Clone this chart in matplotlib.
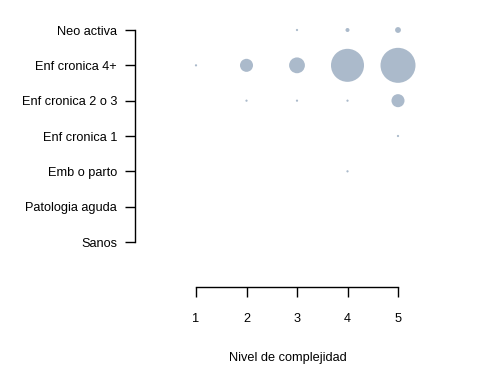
import matplotlib
matplotlib.use("Agg")
import matplotlib.pyplot as plt
import numpy as np

plt.rcParams['font.family'] = ['Liberation Sans', 'DejaVu Sans']

categories = ["Sanos", "Patologia aguda", "Emb o parto", "Enf cronica 1",
              "Enf cronica 2 o 3", "Enf cronica 4+", "Neo activa"]
levels = [1, 2, 3, 4, 5]

# counts (area-proportional) by category row, columns = complexity levels 1..5
counts = {
    "Sanos":             [0, 0, 0, 0, 0],
    "Patologia aguda":   [0, 0, 0, 0, 0],
    "Emb o parto":       [0, 0, 0, 5, 0],
    "Enf cronica 1":     [0, 0, 0, 0, 5],
    "Enf cronica 2 o 3": [0, 5, 5, 5, 170],
    "Enf cronica 4+":    [5, 170, 250, 1090, 1225],
    "Neo activa":        [0, 0, 5, 16, 34],
}

fig = plt.figure(figsize=(4.8, 3.83), dpi=100)
left, right = 135 / 480, 440 / 480
bottom, top = (383 - 287) / 383, (383 - 10) / 383
ax = fig.add_axes([left, bottom, right - left, top - bottom])

px_x = (398 - 196) / 4.0
px_y = (242 - 30) / 6.0
ax.set_xlim(1 - (196 - 135) / px_x, 5 + (440 - 398) / px_x)
ax.set_ylim(1 - (287 - 242) / px_y, 7 + (30 - 10) / px_y)

xs, ys, ss = [], [], []
for i, cat in enumerate(categories):
    for j, lv in enumerate(levels):
        c = counts[cat][j]
        if c > 0:
            xs.append(lv)
            ys.append(i + 1)
            ss.append((np.sqrt(c) * 0.72) ** 2)
ax.scatter(xs, ys, s=ss, color="#ABBACB", linewidths=0)

for s in ["top", "right"]:
    ax.spines[s].set_visible(False)
ax.spines["left"].set_bounds(1, 7)
ax.spines["bottom"].set_bounds(1, 5)
ax.spines["left"].set_linewidth(1.0)
ax.spines["bottom"].set_linewidth(1.0)

ax.set_xticks(levels)
ax.set_xticklabels([str(l) for l in levels], fontsize=9.2)
ax.set_yticks(range(1, len(categories) + 1))
ax.set_yticklabels(categories, fontsize=9.2)
ax.tick_params(axis="y", length=7, pad=6, width=1.0)
ax.tick_params(axis="x", length=7, pad=12, width=1.0)
ax.set_xlabel("Nivel de complejidad", fontsize=9.2, labelpad=19)

fig.savefig("out.png", dpi=100)
